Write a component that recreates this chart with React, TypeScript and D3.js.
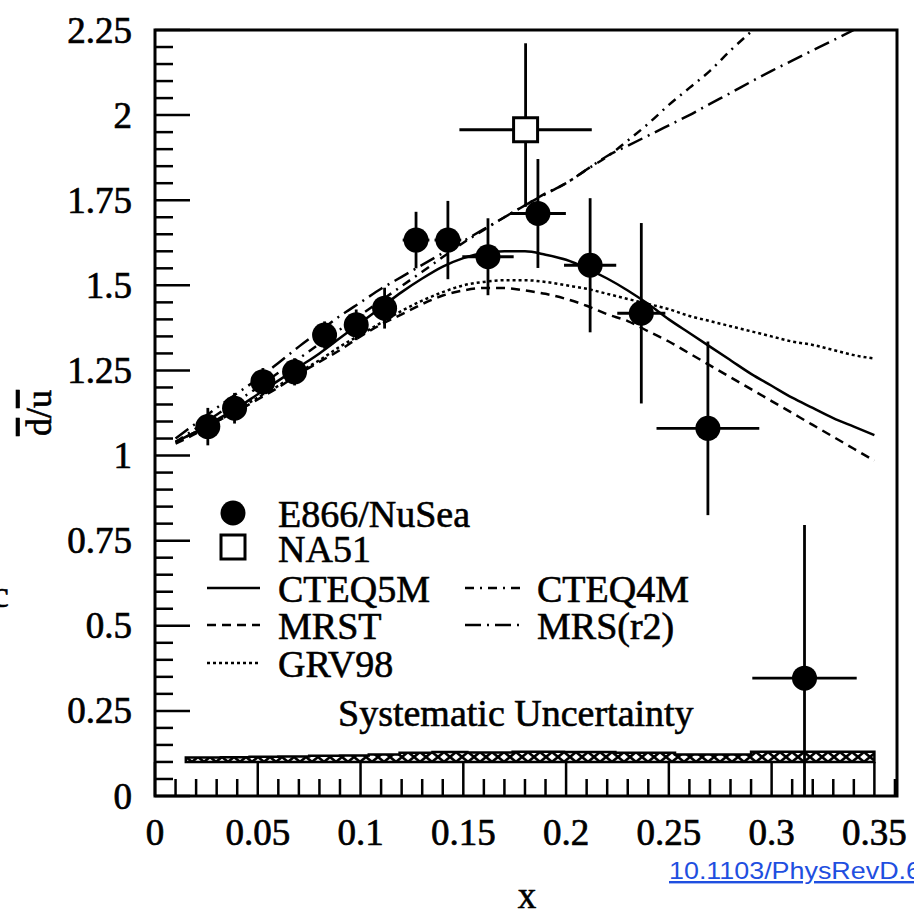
import React from 'react';
import * as d3 from 'd3';

// E866/NuSea points
const e866X = [0.0257, 0.0387, 0.0525, 0.0679, 0.0825, 0.0979, 0.1117, 0.127, 0.1425, 0.162, 0.1863, 0.2117, 0.2366, 0.269, 0.316];
const e866Y = [1.085, 1.139, 1.217, 1.246, 1.354, 1.384, 1.433, 1.633, 1.633, 1.584, 1.711, 1.559, 1.418, 1.080, 0.346];
const e866Ey = [0.055, 0.045, 0.04, 0.04, 0.04, 0.045, 0.06, 0.083, 0.115, 0.113, 0.16, 0.197, 0.265, 0.255, 0.45];
const e866Ex = [0.004, 0.004, 0.004, 0.004, 0.004, 0.004, 0.005, 0.0065, 0.0065, 0.0125, 0.0136, 0.0127, 0.0117, 0.025, 0.0254];

// NA51
const na51X = [0.1803];
const na51Y = [1.957];
const na51EyUp = [0.254];
const na51EyDn = [0.226];
const na51Ex = [0.0322];

// theory curves
const curveX = [0.01, 0.02, 0.03, 0.04, 0.05, 0.06, 0.07, 0.08, 0.09, 0.10, 0.11, 0.12, 0.13, 0.14, 0.15, 0.16, 0.17, 0.18, 0.19, 0.20, 0.21, 0.22, 0.23, 0.24, 0.25, 0.26, 0.27, 0.28, 0.29, 0.30, 0.31, 0.32, 0.33, 0.34, 0.35];
const cteq5m = [1.04, 1.07, 1.105, 1.14, 1.18, 1.22, 1.26, 1.30, 1.345, 1.39, 1.435, 1.48, 1.52, 1.555, 1.58, 1.595, 1.60, 1.60, 1.59, 1.575, 1.55, 1.52, 1.485, 1.445, 1.40, 1.36, 1.32, 1.28, 1.24, 1.205, 1.17, 1.14, 1.11, 1.085, 1.06];
const mrst = [1.035, 1.065, 1.10, 1.13, 1.165, 1.20, 1.24, 1.275, 1.31, 1.35, 1.385, 1.415, 1.445, 1.47, 1.485, 1.492, 1.492, 1.485, 1.475, 1.46, 1.44, 1.415, 1.395, 1.365, 1.335, 1.30, 1.265, 1.23, 1.195, 1.16, 1.125, 1.09, 1.055, 1.02, 0.985];
const grv98 = [1.04, 1.07, 1.10, 1.135, 1.17, 1.205, 1.245, 1.28, 1.32, 1.355, 1.39, 1.425, 1.455, 1.48, 1.50, 1.51, 1.515, 1.515, 1.51, 1.50, 1.49, 1.475, 1.46, 1.445, 1.43, 1.41, 1.395, 1.38, 1.365, 1.35, 1.335, 1.325, 1.31, 1.295, 1.285];
const cteq4m = [1.04, 1.08, 1.12, 1.16, 1.2, 1.243, 1.285, 1.328, 1.37, 1.413, 1.455, 1.498, 1.54, 1.583, 1.625, 1.663, 1.70, 1.735, 1.77, 1.80, 1.84, 1.878, 1.925, 1.975, 2.03, 2.08, 2.13, 2.19, 2.245, 2.30, 2.355, 2.41, 2.465, 2.52, 2.575];
const mrsr2 = [1.05, 1.095, 1.14, 1.183, 1.225, 1.272, 1.32, 1.365, 1.41, 1.45, 1.49, 1.525, 1.56, 1.595, 1.63, 1.665, 1.70, 1.735, 1.768, 1.80, 1.84, 1.88, 1.91, 1.94, 1.97, 2.00, 2.033, 2.065, 2.098, 2.13, 2.16, 2.19, 2.22, 2.25, 2.28];

// systematic uncertainty band (drawn on top of base 0.1)
const systBase = 0.1;
const systEdges = [0.015, 0.032, 0.046, 0.06, 0.075, 0.09, 0.104, 0.119, 0.135, 0.152, 0.174, 0.199, 0.224, 0.253, 0.29, 0.35];
const systVals = [0.013, 0.014, 0.015, 0.016, 0.018, 0.019, 0.022, 0.027, 0.029, 0.028, 0.03, 0.029, 0.027, 0.022, 0.03];

const xMajor = [0, 0.05, 0.1, 0.15, 0.2, 0.25, 0.3, 0.35];
const xLabels = ['0', '0.05', '0.1', '0.15', '0.2', '0.25', '0.3', '0.35'];
const yMajor = [0, 0.25, 0.5, 0.75, 1, 1.25, 1.5, 1.75, 2, 2.25];
const yLabels = ['0', '0.25', '0.5', '0.75', '1', '1.25', '1.5', '1.75', '2', '2.25'];

const serif = "'Liberation Serif', 'Times New Roman', serif";

const App = () => {
  const left = 155, right = 897, top = 30, bottom = 796;
  const x = d3.scaleLinear().domain([0, 0.361]).range([left, right]);
  const y = d3.scaleLinear().domain([0, 2.25]).range([bottom, top]);

  const xMinor = d3.range(0, 0.3601, 0.01).filter(v => Math.abs(v * 20 - Math.round(v * 20)) > 1e-6);
  const yMinor = d3.range(0, 2.2501, 0.05).filter(v => Math.abs(v * 4 - Math.round(v * 4)) > 1e-6);

  const line = d3.line<number>()
    .x((d, i) => x(curveX[i]))
    .y(d => y(d))
    .curve(d3.curveMonotoneX);

  const curves = [
    { vals: cteq5m, dash: null },
    { vals: mrst, dash: '9,6' },
    { vals: grv98, dash: '3,3' },
    { vals: cteq4m, dash: '9,6,2,6' },
    { vals: mrsr2, dash: '16,6,2,6' },
  ];

  // systematic band outline
  let stepPath = `M${x(systEdges[0])},${y(systBase)}`;
  systVals.forEach((v, i) => {
    stepPath += `L${x(systEdges[i])},${y(systBase + v)}L${x(systEdges[i + 1])},${y(systBase + v)}`;
  });
  stepPath += `L${x(systEdges[systEdges.length - 1])},${y(systBase)}Z`;

  const legendLeft = [
    { label: 'CTEQ5M', dash: null, yb: 602 },
    { label: 'MRST', dash: '9,6', yb: 639 },
    { label: 'GRV98', dash: '3,3', yb: 677 },
  ];
  const legendRight = [
    { label: 'CTEQ4M', dash: '9,6,2,6', yb: 602 },
    { label: 'MRS(r2)', dash: '16,6,2,6', yb: 639 },
  ];

  return (
    <svg width={914} height={913} style={{ position: 'absolute', left: 0, top: 0, background: '#fff' }}>
      <defs>
        <clipPath id="plotClip">
          <rect x={left} y={top} width={right - left} height={bottom - top} />
        </clipPath>
        <pattern id="hatch" patternUnits="userSpaceOnUse" width={12} height={10} y={y(systBase)}>
          <rect width={12} height={10} fill="#fff" />
          <path d="M0,0 L12,10 M12,0 L0,10" stroke="#000" strokeWidth={2.6} />
        </pattern>
      </defs>

      {/* systematic band */}
      <path d={stepPath} fill="url(#hatch)" stroke="#000" strokeWidth={2.5} />

      {/* theory curves */}
      <g clipPath="url(#plotClip)" fill="none" stroke="#000" strokeWidth={2.5}>
        {curves.map((c, i) => (
          <path key={i} d={line(c.vals) || ''} strokeDasharray={c.dash || undefined} />
        ))}
      </g>

      {/* E866 error bars and points */}
      <g clipPath="url(#plotClip)" stroke="#000" strokeWidth={2.8}>
        {e866X.map((xv, i) => (
          <g key={i}>
            <line x1={x(xv)} x2={x(xv)} y1={y(e866Y[i] - e866Ey[i])} y2={y(e866Y[i] + e866Ey[i])} />
            <line x1={x(xv - e866Ex[i])} x2={x(xv + e866Ex[i])} y1={y(e866Y[i])} y2={y(e866Y[i])} />
            <circle cx={x(xv)} cy={y(e866Y[i])} r={12.5} fill="#000" stroke="none" />
          </g>
        ))}
        {na51X.map((xv, i) => (
          <g key={'n' + i}>
            <line x1={x(xv)} x2={x(xv)} y1={y(na51Y[i] - na51EyDn[i])} y2={y(na51Y[i] + na51EyUp[i])} />
            <line x1={x(xv - na51Ex[i])} x2={x(xv + na51Ex[i])} y1={y(na51Y[i])} y2={y(na51Y[i])} />
            <rect x={x(xv) - 12} y={y(na51Y[i]) - 12} width={24} height={24} fill="#fff" strokeWidth={3} />
          </g>
        ))}
      </g>

      {/* ticks */}
      <g stroke="#000" strokeWidth={2.5}>
        {xMajor.map((v, i) => <line key={'xM' + i} x1={x(v)} x2={x(v)} y1={bottom} y2={bottom - 34} />)}
        {xMinor.map((v, i) => <line key={'xm' + i} x1={x(v)} x2={x(v)} y1={bottom} y2={bottom - 17} />)}
        {yMajor.map((v, i) => <line key={'yM' + i} x1={left} x2={left + 35} y1={y(v)} y2={y(v)} />)}
        {yMinor.map((v, i) => <line key={'ym' + i} x1={left} x2={left + 18} y1={y(v)} y2={y(v)} />)}
      </g>

      {/* frame */}
      <rect x={left} y={top} width={right - left} height={bottom - top} fill="none" stroke="#000" strokeWidth={3} />

      {/* tick labels */}
      <g fontFamily={serif} fontSize={37} fill="#000" stroke="#000" strokeWidth={0.7}>
        {xMajor.map((v, i) => (
          <text key={'xl' + i} x={x(v)} y={845} textAnchor="middle">{xLabels[i]}</text>
        ))}
        {yMajor.map((v, i) => (
          <text key={'yl' + i} x={132} y={y(v)} dy="0.34em" textAnchor="end">{yLabels[i]}</text>
        ))}
      </g>

      {/* axis titles */}
      <g fontFamily={serif} fill="#000" stroke="#000" strokeWidth={0.6}>
        <text x={527} y={908} fontSize={37} textAnchor="middle">x</text>
        <text transform="translate(51,413) rotate(-90)" fontSize={36} textAnchor="middle">
          <tspan textDecoration="overline">d</tspan>/<tspan textDecoration="overline">u</tspan>
        </text>
        <text x={-8} y={607} fontSize={38}>c</text>
      </g>

      {/* legend */}
      <g fontFamily={serif} fontSize={38} fill="#000">
        <circle cx={233} cy={513} r={12.5} fill="#000" />
        <rect x={221} y={535} width={24} height={24} fill="#fff" stroke="#000" strokeWidth={3} />
        {legendLeft.map((l, i) => (
          <line key={'ll' + i} x1={207} x2={260} y1={l.yb - 14} y2={l.yb - 14} stroke="#000" strokeWidth={2.5} strokeDasharray={l.dash || undefined} />
        ))}
        {legendRight.map((l, i) => (
          <line key={'lr' + i} x1={465} x2={522} y1={l.yb - 14} y2={l.yb - 14} stroke="#000" strokeWidth={2.5} strokeDasharray={l.dash || undefined} />
        ))}
        <g stroke="#000" strokeWidth={0.6}>
          <text x={278} y={527}>E866/NuSea</text>
          <text x={278} y={562}>NA51</text>
          {legendLeft.map((l, i) => <text key={'lt' + i} x={278} y={l.yb}>{l.label}</text>)}
          {legendRight.map((l, i) => <text key={'rt' + i} x={537} y={l.yb}>{l.label}</text>)}
          <text x={338} y={726}>Systematic Uncertainty</text>
        </g>
      </g>

      {/* doi link */}
      <text x={669} y={879} fontFamily="'Liberation Sans', Arial, sans-serif" fontSize={24} fill="#1f4fe0"
        textDecoration="underline" textLength={252} lengthAdjust="spacingAndGlyphs">10.1103/PhysRevD.6</text>
    </svg>
  );
};

export default App;
